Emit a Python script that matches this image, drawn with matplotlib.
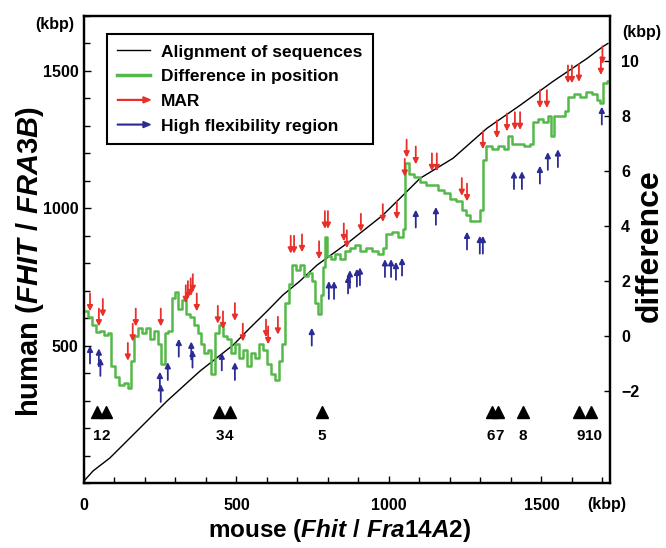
import matplotlib
matplotlib.use("Agg")
import matplotlib.pyplot as plt
import matplotlib.patches as mpatches
from matplotlib.lines import Line2D
from matplotlib.legend_handler import HandlerPatch
from matplotlib.ticker import MultipleLocator

plt.rcParams['font.family'] = ['Liberation Sans', 'DejaVu Sans']
plt.rcParams['font.weight'] = 'bold'
plt.rcParams['mathtext.fontset'] = 'custom'
plt.rcParams['mathtext.it'] = 'Liberation Sans:italic:bold'
plt.rcParams['mathtext.rm'] = 'Liberation Sans:bold'

# --- alignment of sequences (mouse kbp -> human kbp) ---
align_mouse = [0, 30, 85, 161, 272, 380, 489, 544, 600, 652, 708, 764, 872,
               980, 1036, 1102, 1210, 1321, 1430, 1538, 1649, 1702, 1718]
align_human = [7, 44, 91, 175, 298, 407, 502, 564, 625, 684, 735, 793, 880,
               975, 1036, 1109, 1182, 1291, 1375, 1462, 1545, 1589, 1600]

# --- difference in position (kbp) along mouse ---
diff_x = [0, 13, 26, 39, 52, 66, 79, 89, 102, 115, 131, 144, 154, 164, 177,
          190, 203, 216, 230, 243, 252, 266, 275, 289, 298, 308, 321, 334,
          348, 361, 374, 384, 393, 407, 416, 430, 443, 456, 469, 482, 495,
          508, 521, 534, 548, 561, 574, 587, 600, 613, 626, 639, 649, 659,
          672, 682, 695, 708, 721, 734, 748, 757, 767, 777, 784, 790, 797,
          810, 823, 839, 856, 872, 889, 905, 925, 944, 964, 980, 990, 1010,
          1030, 1046, 1052, 1066, 1082, 1102, 1121, 1141, 1161, 1180, 1200,
          1220, 1239, 1252, 1266, 1285, 1298, 1308, 1318, 1338, 1357, 1377,
          1390, 1403, 1423, 1443, 1462, 1472, 1489, 1505, 1521, 1531, 1541,
          1561, 1577, 1587, 1607, 1626, 1646, 1666, 1682, 1692, 1702, 1715,
          1725]
diff_y = [0.9, 0.7, 0.4, 0.15, 0.2, 0.05, 0.1, -1.1, -1.5, -1.8, -1.7, -1.9,
          -0.9, 0.0, 0.3, 0.1, 0.3, -0.1, 0.2, -0.3, -1.0, 0.1, 0.2, 1.4, 1.6,
          1.0, 1.3, 0.8, 0.7, 0.4, 0.1, -0.3, -0.6, -0.5, -1.4, 0.1, 0.4, 0.0,
          -0.1, -0.6, -0.3, -0.8, -0.5, -1.1, -0.6, -0.8, -0.3, -0.5, -1.0,
          -1.4, -1.6, -0.9, -0.3, 1.2, 1.9, 2.6, 2.4, 2.6, 2.2, 2.3, 2.0, 1.2,
          0.8, 1.5, 2.5, 3.6, 2.9, 2.8, 3.0, 2.8, 3.1, 3.2, 3.3, 3.1, 3.2,
          3.1, 3.0, 3.2, 3.7, 3.8, 3.6, 3.9, 6.3, 5.9, 5.8, 5.6, 5.5, 5.5,
          5.3, 5.2, 5.0, 4.9, 4.6, 4.4, 4.2, 4.2, 4.6, 6.4, 6.9, 6.8, 6.9,
          6.8, 7.3, 7.0, 7.0, 6.9, 7.0, 7.8, 7.9, 7.8, 8.0, 7.3, 8.0, 8.0,
          8.2, 8.7, 8.8, 8.7, 8.9, 8.8, 8.6, 8.5, 9.2, 9.3, 9.1]

# --- MAR positions (arrow tip on difference axis) ---
mar_x = [20, 49, 62, 144, 160, 170, 252, 334, 341, 350, 357, 370, 439, 456,
         495, 521, 597, 604, 636, 678, 689, 715, 771, 790, 800, 852, 862, 908,
         980, 1026, 1052, 1058, 1088, 1141, 1157, 1239, 1256, 1308, 1354,
         1387, 1413, 1430, 1495, 1518, 1587, 1600, 1623, 1695, 1700]
mar_tip = [0.9, 0.35, 0.7, -0.9, -0.2, 0.35, 0.35, 1.2, 1.35, 1.45, 1.6, 0.9,
           0.45, 0.25, 0.55, -0.2, -0.05, -0.3, 0.05, 3.0, 3.0, 3.05, 2.8,
           3.9, 3.9, 3.45, 3.2, 3.8, 4.15, 4.25, 5.8, 6.5, 6.25, 6.0, 6.0, 5.1,
           4.9, 6.8, 7.2, 7.45, 7.5, 7.5, 8.3, 8.3, 9.2, 9.2, 9.25, 9.5, 9.9]

# --- high flexibility regions (arrow tip on difference axis) ---
flex_x = [20, 49, 54, 249, 252, 275, 311, 352, 356, 452, 495, 747, 803, 820,
          866, 872, 895, 905, 987, 1007, 1023, 1043, 1088, 1154, 1256, 1298,
          1308, 1410, 1436, 1495, 1521, 1554, 1698]
flex_tip = [-0.35, -0.45, -0.8, -1.3, -1.75, -0.95, -0.1, -0.2, -0.5, -0.6,
            -0.95, 0.3, 2.0, 2.0, 2.2, 2.4, 2.45, 2.5, 2.8, 2.8, 2.7, 2.85,
            4.6, 4.7, 3.8, 3.65, 3.65, 6.0, 6.0, 6.2, 6.7, 6.8, 8.35]

# --- numbered sites ---
site_x = [43, 72, 443, 479, 780, 1338, 1357, 1439, 1623, 1662]
site_labels = ['1', '2', '3', '4', '5', '6', '7', '8', '9', '10']

RED = '#e8302a'
BLUE = '#2b2b96'
GREEN = '#55b84a'

fig = plt.figure(figsize=(6.66, 5.48), dpi=100)
ax = fig.add_axes([0.126, 0.1186, 0.790, 0.8522])
ax2 = ax.twinx()

ax.plot(align_mouse, align_human, color='black', lw=1.0)
ax.set_xlim(0, 1725)
ax.set_ylim(0, 1700)

ax2.plot(diff_x, diff_y, color=GREEN, lw=1.8, drawstyle='steps-post')
ax2.set_ylim(-5.35, 11.65)

for x, t in zip(mar_x, mar_tip):
    ax2.annotate('', xy=(x, t), xytext=(x, t + 0.65),
                 arrowprops=dict(arrowstyle='-|>', color=RED, lw=1.3,
                                 mutation_scale=8, shrinkA=0, shrinkB=0))
for x, t in zip(flex_x, flex_tip):
    ax2.annotate('', xy=(x, t), xytext=(x, t - 0.65),
                 arrowprops=dict(arrowstyle='-|>', color=BLUE, lw=1.3,
                                 mutation_scale=8, shrinkA=0, shrinkB=0))

ax2.plot(site_x, [-2.75] * len(site_x), linestyle='none', marker='^',
         color='black', markersize=8)
# close pairs of sites share one label position, split left/right
i = 0
while i < len(site_x):
    if i + 1 < len(site_x) and site_x[i + 1] - site_x[i] < 45:
        mid = (site_x[i] + site_x[i + 1]) / 2
        ax2.text(mid, -3.65, site_labels[i], ha='right', va='center',
                 fontsize=11)
        ax2.text(mid, -3.65, site_labels[i + 1], ha='left', va='center',
                 fontsize=11)
        i += 2
    else:
        ax2.text(site_x[i], -3.65, site_labels[i], ha='center', va='center',
                 fontsize=11)
        i += 1

# --- axes styling ---
for a in (ax, ax2):
    for sp in a.spines.values():
        sp.set_linewidth(1.6)
ax.set_xticks([0, 500, 1000, 1500])
ax.xaxis.set_minor_locator(MultipleLocator(100))
ax.set_yticks([500, 1000, 1500])
ax.yaxis.set_minor_locator(MultipleLocator(100))
ax.tick_params(which='both', direction='in', width=1.0, labelsize=11.5)
ax.tick_params(which='major', length=5)
ax.tick_params(which='minor', length=4)
ax.tick_params(axis='x', pad=11)
ax.tick_params(axis='y', pad=4)
ax2.set_yticks([-2, 0, 2, 4, 6, 8, 10])
ax2.tick_params(direction='in', width=1.0, length=4, labelsize=11.5, pad=8)

fig.text(55 / 666, 1 - 25 / 548, '(kbp)', ha='center', va='center', fontsize=11.5)
fig.text(642 / 666, 1 - 33 / 548, '(kbp)', ha='center', va='center', fontsize=11.5)
fig.text(607 / 666, 1 - 505 / 548, '(kbp)', ha='center', va='center', fontsize=11.5)

fig.text(30 / 666, 1 - 262 / 548, r'human ($\mathit{FHIT\ /\ FRA3B}$)',
         rotation=90, ha='center', va='center', fontsize=21)
fig.text(340 / 666, 1 - 530 / 548, r'mouse ($\mathit{Fhit\ /\ Fra14A2}$)',
         ha='center', va='center', fontsize=17.5)
fig.text(650 / 666, 1 - 246 / 548, 'difference', rotation=90,
         ha='center', va='center', fontsize=23)


def make_arrow(legend, orig_handle, xdescent, ydescent, width, height, fontsize):
    return mpatches.FancyArrow(0, height / 2, width, 0, width=height * 0.06,
                               length_includes_head=True,
                               head_width=height * 0.5, head_length=height * 0.6)


handles = [Line2D([], [], color='black', lw=1.0),
           Line2D([], [], color=GREEN, lw=2.5),
           mpatches.Patch(color=RED),
           mpatches.Patch(color=BLUE)]
labels = ['Alignment of sequences', 'Difference in position', 'MAR',
          'High flexibility region']
leg = ax2.legend(handles, labels, loc='upper left',
                 bbox_to_anchor=(0.0437, 0.9615), borderaxespad=0,
                 fancybox=False, framealpha=1, edgecolor='black',
                 fontsize=12.5, handlelength=1.9, handletextpad=0.6,
                 borderpad=0.6, labelspacing=0.55,
                 handler_map={mpatches.Patch: HandlerPatch(patch_func=make_arrow)})
leg.get_frame().set_linewidth(1.5)

fig.savefig('out.png', dpi=100)
